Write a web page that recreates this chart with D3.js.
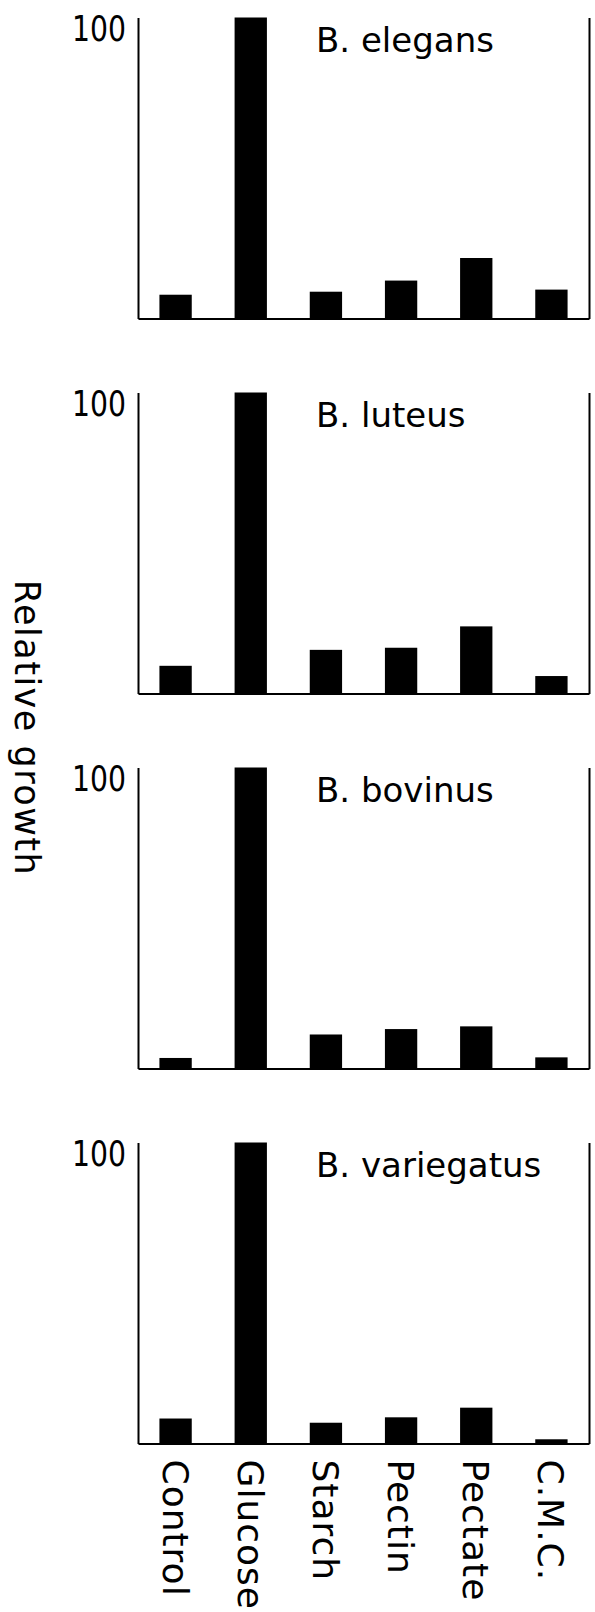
<!DOCTYPE html>
<html>
<head>
<meta charset="utf-8">
<script src="https://cdn.jsdelivr.net/npm/d3@7"></script>
<style>
  body { margin: 0; background: #fff; }
  svg { display: block; }
  .axis path { stroke: #000; stroke-width: 2; }
  .axis line { display: none; }
  text { font-family: "DejaVu Sans", sans-serif; fill: #000; }
</style>
</head>
<body>
<div id="plot"></div>
<script>
// substrates on the x axis
const categories = ["Control", "Glucose", "Starch", "Pectin", "Pectate", "C.M.C."]
const species = ["B. elegans", "B. luteus", "B. bovinus", "B. variegatus"]
// relative growth, glucose = 100
const elegans = [7.9, 100, 8.9, 12.6, 20.1, 9.6]
const luteus = [9.2, 100, 14.5, 15.2, 22.3, 5.8]
const bovinus = [3.5, 100, 11.3, 13.1, 14.0, 3.7]
const variegatus = [8.3, 100, 6.9, 8.7, 11.9, 1.4]
const yTicks = [100]

const seriesList = [elegans, luteus, bovinus, variegatus]

const w = 595,
      h = 1612,
      left = 138,
      right = 589,
      firstTop = 17.5,
      panelStep = 375,
      panelH = 301

const x = d3.scaleBand()
  .domain(categories)
  .range([left, right])
  .paddingInner(0.57)
  .paddingOuter(0.285)

const svg = d3.select("#plot").append("svg")
  .attr("width", w)
  .attr("height", h)

seriesList.forEach((vals, i) => {
  const top = firstTop + i * panelStep,
        base = top + panelH
  const y = d3.scaleLinear().domain([0, 100]).range([base, top])
  const g = svg.append("g")

  // bars
  g.selectAll("rect")
    .data(vals)
    .join("rect")
      .attr("x", (d, j) => x(categories[j]))
      .attr("width", x.bandwidth())
      .attr("y", d => y(d))
      .attr("height", d => y(0) - y(d))
      .attr("fill", "#000")

  // left axis with the single 100 tick
  const yAxis = g.append("g")
    .attr("class", "axis")
    .attr("transform", `translate(${left},0)`)
    .call(d3.axisLeft(y).tickValues(yTicks).tickSize(0).tickSizeOuter(0).tickPadding(12))
  yAxis.selectAll("text")
    .attr("font-size", 36)
    .attr("dy", "0.65em")
    .attr("textLength", 54)
    .attr("lengthAdjust", "spacingAndGlyphs")

  // right frame line
  g.append("g")
    .attr("class", "axis")
    .attr("transform", `translate(${right},0)`)
    .call(d3.axisRight(y).tickValues([]).tickSizeOuter(0))

  // baseline
  g.append("g")
    .attr("class", "axis")
    .attr("transform", `translate(0,${base})`)
    .call(d3.axisBottom(x).tickValues([]).tickSizeOuter(0))

  // species name
  g.append("text")
    .attr("x", 316)
    .attr("y", top + 34)
    .attr("font-size", 34)
    .text(species[i])
})

// category labels under the last panel, reading downward
const lastBase = firstTop + 3 * panelStep + panelH
svg.append("g")
  .selectAll("text")
  .data(categories)
  .join("text")
    .attr("transform", d => `translate(${x(d) + x.bandwidth() / 2},${lastBase + 16}) rotate(90)`)
    .attr("dy", "0.36em")
    .attr("font-size", 36)
    .attr("letter-spacing", 1)
    .text(d => d)

// y axis title
svg.append("text")
  .attr("transform", "translate(28,728) rotate(90)")
  .attr("text-anchor", "middle")
  .attr("dy", "0.36em")
  .attr("font-size", 35)
  .attr("letter-spacing", 1.5)
  .text("Relative growth")
</script>
</body>
</html>
